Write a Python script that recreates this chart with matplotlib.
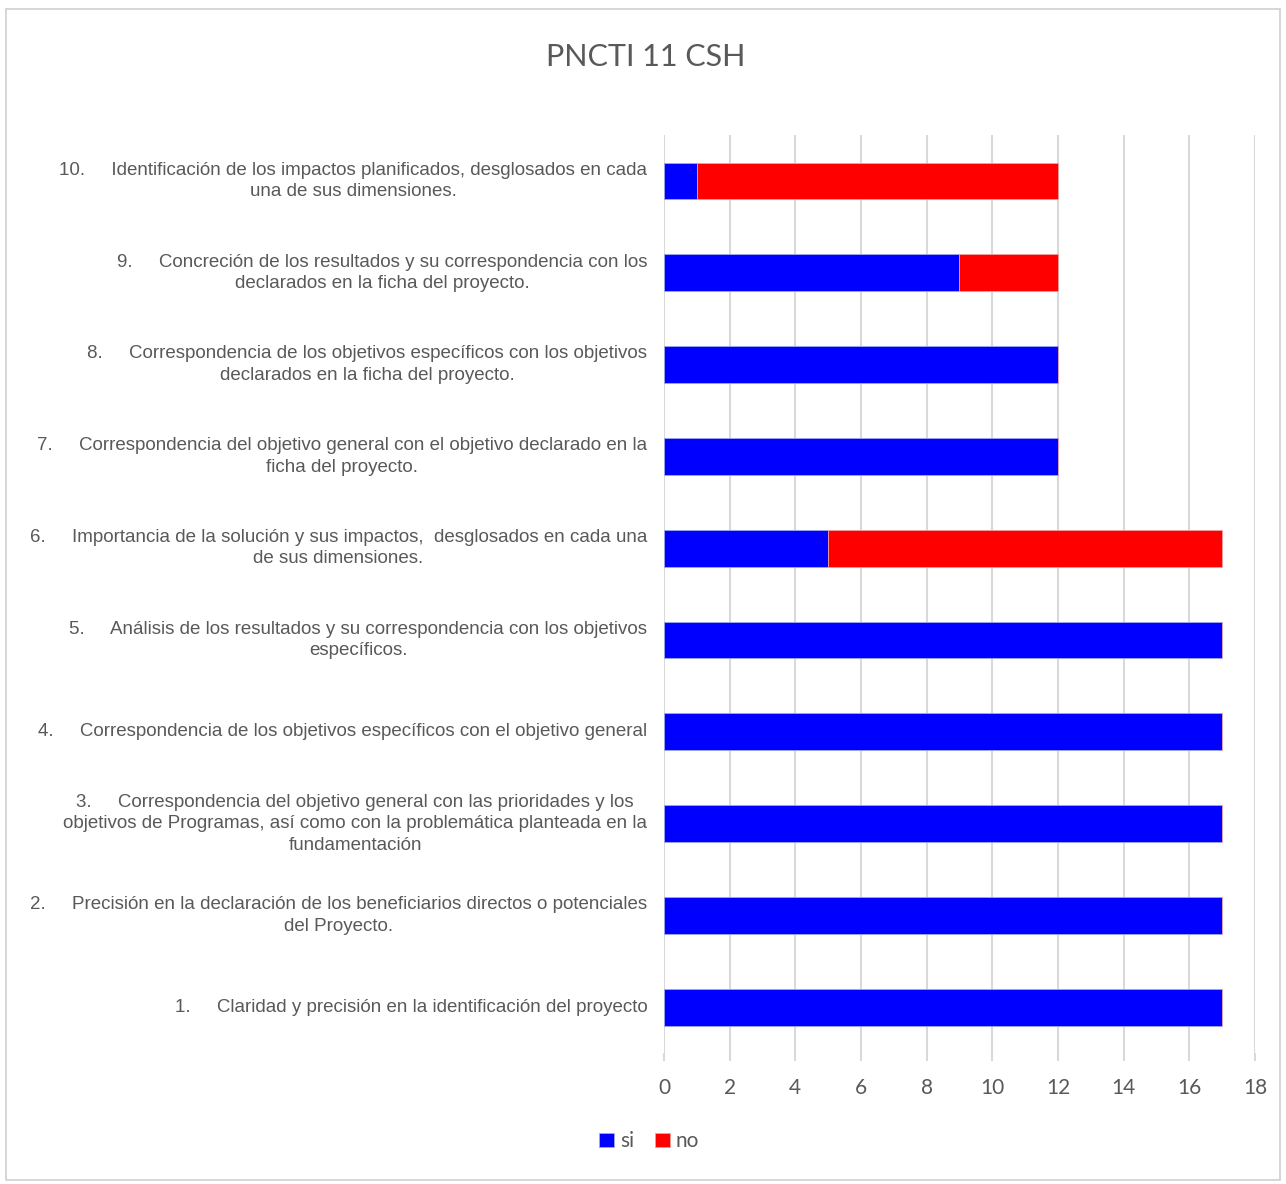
import matplotlib.pyplot as plt
from matplotlib.patches import Rectangle

# Chart data (item 1 at bottom, item 10 at top)
labels = [
    "1.     Claridad y precisión en la identificación del proyecto",
    "2.     Precisión en la declaración de los beneficiarios directos o potenciales\ndel Proyecto.",
    "3.     Correspondencia del objetivo general con las prioridades y los\nobjetivos de Programas, así como con la problemática planteada en la\nfundamentación",
    "4.     Correspondencia de los objetivos específicos con el objetivo general",
    "5.     Análisis de los resultados y su correspondencia con los objetivos\nespecíficos.",
    "6.     Importancia de la solución y sus impactos,  desglosados en cada una\nde sus dimensiones.",
    "7.     Correspondencia del objetivo general con el objetivo declarado en la\nficha del proyecto.",
    "8.     Correspondencia de los objetivos específicos con los objetivos\ndeclarados en la ficha del proyecto.",
    "9.     Concreción de los resultados y su correspondencia con los\ndeclarados en la ficha del proyecto.",
    "10.     Identificación de los impactos planificados, desglosados en cada\nuna de sus dimensiones.",
]
si = [17, 17, 17, 17, 17, 5, 12, 12, 9, 1]
no = [0, 0, 0, 0, 0, 12, 0, 0, 3, 11]
xticks = [0, 2, 4, 6, 8, 10, 12, 14, 16, 18]

gray = "#595959"
label_font = ["Liberation Sans", "DejaVu Sans"]
num_font = ["Lato", "DejaVu Sans"]

fig = plt.figure(figsize=(12.86, 11.84), dpi=100)
fig.patches.append(Rectangle((0.005, 0.003), 0.99, 0.989, transform=fig.transFigure,
                             fill=False, edgecolor="#D0D0D0", linewidth=1.2))

ax = fig.add_axes([0.5163, 0.1106, 0.4596, 0.7753])
y = range(len(labels))
ax.barh(y, si, height=0.4, color="#0000FF", edgecolor="#9EA8F0", linewidth=0.6, label="si", zorder=3)
ax.barh(y, no, left=si, height=0.4, color="#FF0000", edgecolor="#F0A0A0", linewidth=0.6, label="no", zorder=3)

ax.set_xlim(0, 18)
ax.set_ylim(-0.5, len(labels) - 0.5)
ax.set_xticks(xticks)
ax.set_xticklabels([str(t) for t in xticks], fontsize=15, color=gray, family=num_font)
ax.set_yticks(list(y))
ax.set_yticklabels(labels, fontsize=13.5, color=gray, family=label_font,
                   ha="right", multialignment="center", va="center", linespacing=1.35)
ax.tick_params(axis="y", length=0, pad=12)
ax.tick_params(axis="x", length=6, color="#D9D9D9", width=1.5, pad=12)
ax.grid(axis="x", color="#D9D9D9", linewidth=1.5, zorder=0)
for s in ax.spines.values():
    s.set_visible(False)

fig.text(0.502, 0.952, "PNCTI 11 CSH", ha="center", va="center", fontsize=22,
         color=gray, family=num_font)

fig.legend(loc="center", bbox_to_anchor=(0.505, 0.036), ncol=2, frameon=False,
           handlelength=0.7, handleheight=0.7, handletextpad=0.3, columnspacing=1.0,
           prop={"family": num_font, "size": 15}, labelcolor=gray)

fig.savefig("out.png", dpi=100)
